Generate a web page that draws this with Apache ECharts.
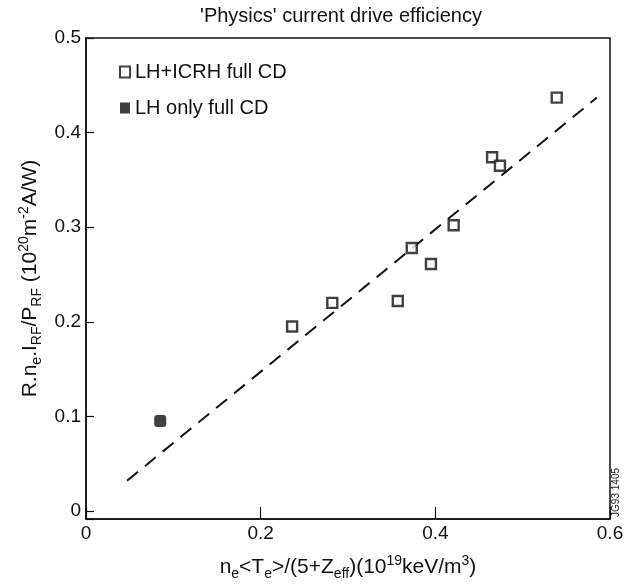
<!DOCTYPE html>
<html>
<head>
<meta charset="utf-8">
<script src="https://cdn.jsdelivr.net/npm/echarts@6/dist/echarts.min.js"></script>
<style>
html,body{margin:0;padding:0;background:#fff;}
#chart{width:634px;height:586px;}
</style>
</head>
<body>
<div id="chart"></div>
<script>
var titleText = "'Physics' current drive efficiency";
var legendNames = ['LH+ICRH full CD', 'LH only full CD'];
var xTicks = [0, 0.2, 0.4, 0.6];
var yTicks = [0, 0.1, 0.2, 0.3, 0.4, 0.5];
var lhIcrhX = [0.236, 0.282, 0.357, 0.373, 0.395, 0.421, 0.465, 0.474, 0.539];
var lhIcrhY = [0.195, 0.220, 0.222, 0.278, 0.261, 0.302, 0.374, 0.365, 0.437];
var lhOnlyX = [0.085];
var lhOnlyY = [0.095];
var fitX = [0.047, 0.585];
var fitY = [0.032, 0.437];
var stampText = 'JG93 1405';

function pairs(xs, ys){ return xs.map(function(x,i){ return [x, ys[i]]; }); }
function fmt(list){
  return function(v){
    for (var i=0;i<list.length;i++){ if (Math.abs(v-list[i])<1e-6) return String(list[i]); }
    return '';
  };
}
var FONT = 'Liberation Sans';
var richName = {
  b:{fontFamily:FONT, fontSize:21, color:'#111', lineHeight:27, verticalAlign:'middle'},
  s:{fontFamily:FONT, fontSize:14, color:'#111', lineHeight:14, verticalAlign:'bottom'},
  p:{fontFamily:FONT, fontSize:14, color:'#111', lineHeight:14, verticalAlign:'top'}
};
var chart = echarts.init(document.getElementById('chart'), null, {renderer:'canvas'});
chart.setOption({
  backgroundColor:'#fff',
  animation:false,
  title:{text:titleText, left:336, top:1, textAlign:'center',
    textStyle:{fontFamily:FONT, fontWeight:'normal', fontSize:20, color:'#111'}},
  legend:{orient:'vertical', left:114, top:56, itemGap:14, itemWidth:10, itemHeight:11,
    textStyle:{fontFamily:FONT, fontSize:20, color:'#111', lineHeight:22},
    data:[{name:legendNames[0], icon:'rect'},{name:legendNames[1], icon:'rect'}]},
  grid:{left:86, right:24, top:38, bottom:65, show:true, borderColor:'#111', borderWidth:1.5, backgroundColor:'transparent'},
  xAxis:{type:'value', min:0, max:0.6, interval:0.2,
    axisLine:{onZero:false, lineStyle:{color:'#111', width:1.5}},
    axisTick:{inside:true, length:12, lineStyle:{color:'#111', width:1.2}},
    splitLine:{show:false},
    axisLabel:{fontFamily:FONT, fontSize:19, color:'#111', margin:5, formatter:fmt(xTicks)},
    name:'{b|n}{s|e}{b|<T}{s|e}{b|>/(5+Z}{s|eff}{b|)(10}{p|19}{b|keV/m}{p|3}{b|)}',
    nameLocation:'middle', nameGap:35,
    nameTextStyle:{rich:richName}
  },
  yAxis:{type:'value', min:-0.0085, max:0.5, splitNumber:5,
    axisLine:{onZero:false, lineStyle:{color:'#111', width:1.5}},
    axisTick:{inside:true, length:8, lineStyle:{color:'#111', width:1.2}},
    splitLine:{show:false},
    axisLabel:{fontFamily:FONT, fontSize:19, color:'#111', margin:5, formatter:fmt(yTicks)},
    name:'{b|R.n}{s|e}{b|.I}{s|RF}{b|/P}{s|RF}{b| (10}{p|20}{b|m}{p|-2}{b|A/W)}',
    nameLocation:'middle', nameGap:42, nameRotate:90,
    nameTextStyle:{rich:richName}
  },
  graphic:[{type:'text', left:611, top:468, rotation:Math.PI/2,
    style:{text:stampText, fontFamily:FONT, fontSize:10, fill:'#222'}}],
  series:[
    {name:legendNames[0], type:'scatter', symbol:'rect', symbolSize:10,
     itemStyle:{color:'#fff', borderColor:'#111', borderWidth:2.4},
     data:pairs(lhIcrhX, lhIcrhY), z:3},
    {name:legendNames[1], type:'scatter', symbol:'roundRect', symbolSize:12,
     itemStyle:{color:'#111', borderColor:'#111', borderWidth:0},
     data:pairs(lhOnlyX, lhOnlyY), z:3},
    {name:'fit', type:'line', data:pairs(fitX, fitY), symbol:'none',
     lineStyle:{color:'#111', width:2, type:[14,9]}, z:2}
  ]
});
</script>
</body>
</html>
